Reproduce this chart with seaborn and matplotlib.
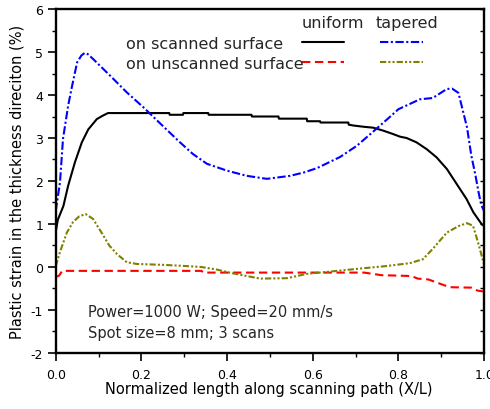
import matplotlib
matplotlib.use("Agg")
import matplotlib.pyplot as plt
import seaborn as sns
import pandas as pd
from matplotlib.ticker import MultipleLocator
from matplotlib.lines import Line2D

# ---- data ----
uni_scan_x = [0, 0.005, 0.018, 0.029, 0.045, 0.061, 0.076, 0.096, 0.11, 0.122, 0.265, 0.266, 0.297,
              0.298, 0.356, 0.357, 0.457, 0.458, 0.52, 0.521, 0.586, 0.587, 0.617, 0.618, 0.683,
              0.684, 0.695, 0.72, 0.741, 0.765, 0.788, 0.804, 0.819, 0.842, 0.866, 0.889, 0.913,
              0.936, 0.959, 0.975, 0.994, 1.0]
uni_scan_y = [0.82, 1.1, 1.42, 1.89, 2.44, 2.9, 3.2, 3.44, 3.52, 3.58, 3.58, 3.54, 3.54,
              3.58, 3.58, 3.54, 3.54, 3.50, 3.50, 3.45, 3.45, 3.39, 3.39, 3.36, 3.36,
              3.31, 3.29, 3.26, 3.24, 3.17, 3.09, 3.03, 3.0, 2.9, 2.74, 2.55, 2.28,
              1.93, 1.58, 1.27, 1.0, 0.95]

tap_scan_x = [0, 0.01, 0.017, 0.029, 0.038, 0.05, 0.06, 0.068, 0.075, 0.087, 0.127, 0.166, 0.204,
              0.25, 0.29, 0.32, 0.353, 0.40, 0.446, 0.493, 0.547, 0.58, 0.61, 0.664, 0.703,
              0.74, 0.78, 0.80, 0.85, 0.88, 0.913, 0.925, 0.94, 0.96, 0.97, 0.98, 0.987, 0.993, 1.0]
tap_scan_y = [1.3, 1.97, 2.98, 3.75, 4.2, 4.76, 4.92, 4.98, 4.95, 4.84, 4.45, 4.06, 3.72,
              3.28, 2.9, 2.63, 2.4, 2.24, 2.12, 2.05, 2.12, 2.2, 2.3, 2.56, 2.82,
              3.14, 3.49, 3.67, 3.9, 3.93, 4.14, 4.15, 4.05, 3.25, 2.6, 2.12, 1.74, 1.45, 1.3]

uni_unscan_x = [0, 0.008, 0.015, 0.34, 0.345, 0.69, 0.72, 0.76, 0.83, 0.845, 0.87, 0.9, 0.92,
                0.97, 0.985, 1.0]
uni_unscan_y = [-0.23, -0.2, -0.09, -0.09, -0.13, -0.13, -0.13, -0.19, -0.21, -0.27, -0.29, -0.4,
                -0.47, -0.48, -0.55, -0.57]

tap_unscan_x = [0, 0.01, 0.026, 0.04, 0.055, 0.07, 0.087, 0.11, 0.125, 0.143, 0.166, 0.19, 0.25,
                0.29, 0.34, 0.376, 0.41, 0.446, 0.477, 0.54, 0.586, 0.647, 0.717, 0.77, 0.827,
                0.857, 0.88, 0.913, 0.94, 0.96, 0.974, 0.985, 0.99, 1.0]
tap_unscan_y = [0.02, 0.35, 0.8, 1.04, 1.18, 1.23, 1.12, 0.75, 0.5, 0.3, 0.11, 0.07, 0.05,
                0.03, 0.0, -0.06, -0.14, -0.21, -0.27, -0.26, -0.16, -0.1, -0.03, 0.02, 0.09,
                0.18, 0.42, 0.8, 0.95, 1.02, 0.96, 0.6, 0.42, 0.05]

x_ticks = [0.0, 0.2, 0.4, 0.6, 0.8, 1.0]
x_tick_labels = ["0.0", "0.2", "0.4", "0.6", "0.8", "1.0"]
y_ticks = [-2, -1, 0, 1, 2, 3, 4, 5, 6]
y_tick_labels = ["-2", "-1", "0", "1", "2", "3", "4", "5", "6"]

# ---- style ----
sns.set_theme(style="ticks")
plt.rcParams["font.family"] = ["DejaVu Sans"]
plt.rcParams["axes.unicode_minus"] = False

fig = plt.figure(figsize=(4.9, 4.1), dpi=100)
ax = fig.add_axes([0.1137, 0.1366, 0.8743, 0.839])

LW = 1.5
series = [
    (uni_scan_x, uni_scan_y, "black", "-"),
    (tap_scan_x, tap_scan_y, "#0000FF", (0, (4, 1.2, 1, 1.2))),
    (uni_unscan_x, uni_unscan_y, "#FF0000", (0, (4, 2.2))),
    (tap_unscan_x, tap_unscan_y, "#808000", (0, (3, 1, 1, 1, 1, 1))),
]
for xs, ys, c, ls in series:
    df = pd.DataFrame({"x": xs, "y": ys})
    sns.lineplot(data=df, x="x", y="y", ax=ax, color=c, linewidth=LW,
                 estimator=None, sort=False, linestyle=ls)

ax.set_xlim(0, 1)
ax.set_ylim(-2, 6)
ax.set_xticks(x_ticks)
ax.set_xticklabels(x_tick_labels)
ax.set_yticks(y_ticks)
ax.set_yticklabels(y_tick_labels)
ax.xaxis.set_minor_locator(MultipleLocator(0.1))
ax.yaxis.set_minor_locator(MultipleLocator(0.5))
ax.tick_params(which="major", direction="out", length=5.5, width=1.2, labelsize=9,
               colors="black", pad=3.5)
ax.tick_params(which="minor", direction="out", length=3, width=1.0, colors="black")
ax.tick_params(axis="x", which="major", pad=5)
for sp in ax.spines.values():
    sp.set_linewidth(1.7)
    sp.set_color("black")
    sp.set_visible(True)

ax2 = ax.twinx()
ax2.set_ylim(-2, 6)
ax2.yaxis.set_major_locator(MultipleLocator(0.5))
ax2.tick_params(axis="y", direction="in", length=3, width=1.0, labelright=False, colors="black")
for sp in ax2.spines.values():
    sp.set_visible(False)

ax.set_xlabel("Normalized length along scanning path (X/L)", fontsize=10.5, color="black")
ax.set_ylabel("Plastic strain in the thickness direciton (%)", fontsize=10.5, color="black")
ax.xaxis.set_label_coords(0.498, -0.082)
ax.yaxis.set_label_coords(-0.072, 0.5)

# ---- legend (custom table layout) ----
tr = ax.transAxes
ax.text(0.647, 0.962, "uniform", transform=tr, fontsize=11.5, ha="center", va="center")
ax.text(0.82, 0.962, "tapered", transform=tr, fontsize=11.5, ha="center", va="center")
ax.text(0.164, 0.900, "on scanned surface", transform=tr, fontsize=11.5, ha="left", va="center")
ax.text(0.164, 0.842, "on unscanned surface", transform=tr, fontsize=11.5, ha="left", va="center")
for (x0, x1, yy, c, ls) in [(0.575, 0.674, 0.903, "black", "-"),
                            (0.757, 0.857, 0.903, "#0000FF", (0, (4, 1.2, 1, 1.2))),
                            (0.575, 0.674, 0.845, "#FF0000", (0, (4, 2.2))),
                            (0.757, 0.857, 0.845, "#808000", (0, (3, 1, 1, 1, 1, 1)))]:
    ax.add_line(Line2D([x0, x1], [yy, yy], transform=tr, color=c, linewidth=LW, linestyle=ls))

ax.text(0.076, 0.122, "Power=1000 W; Speed=20 mm/s", transform=tr, fontsize=10.5,
        ha="left", va="center")
ax.text(0.076, 0.061, "Spot size=8 mm; 3 scans", transform=tr, fontsize=10.5,
        ha="left", va="center")

fig.savefig("out.png", dpi=100)
